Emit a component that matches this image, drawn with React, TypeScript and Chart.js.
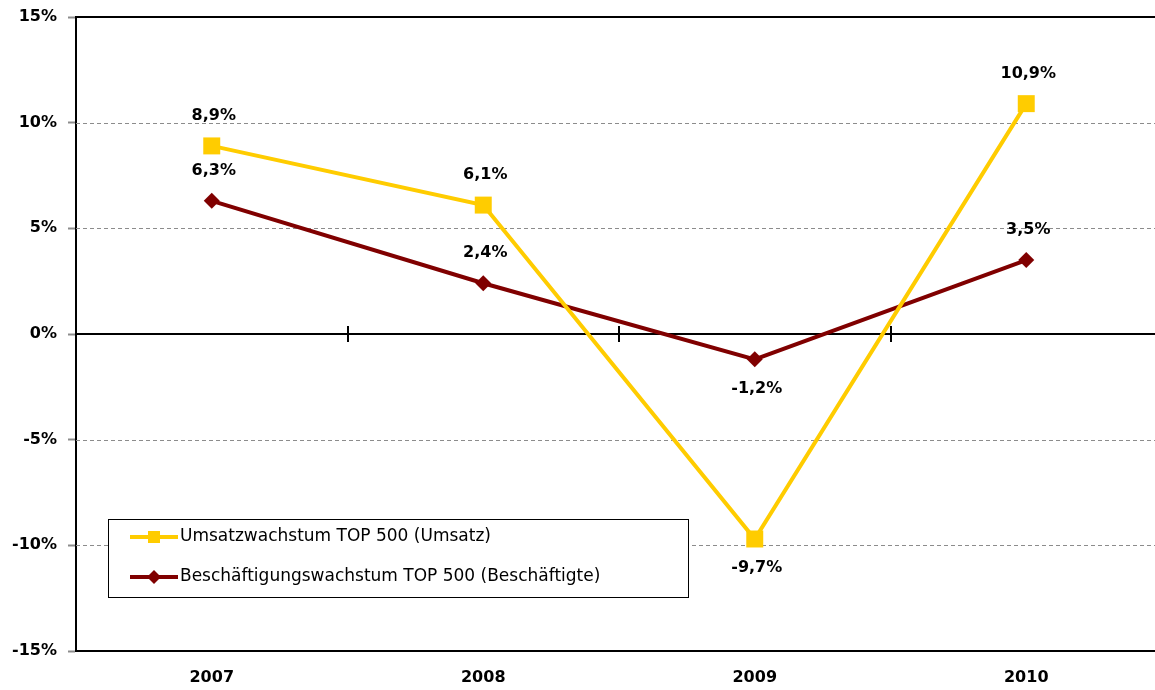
import React, { useEffect, useRef } from "react";
import { Chart, registerables } from "chart.js";

Chart.register(...registerables);

const categories = ["2007", "2008", "2009", "2010"];
const umsatzLabel = "Umsatzwachstum TOP 500 (Umsatz)";
const umsatzValues = [8.9, 6.1, -9.7, 10.9];
const beschLabel = "Beschäftigungswachstum TOP 500 (Beschäftigte)";
const beschValues = [6.3, 2.4, -1.2, 3.5];
const yTicks = [-15, -10, -5, 0, 5, 10, 15];

const YELLOW = "#FFCC00";
const RED = "#800000";
const FONT = "'DejaVu Sans', Verdana, sans-serif";

const fmt = (v: number) => v.toFixed(1).replace(".", ",") + "%";

const decorPlugin = {
  id: "decor",
  beforeDatasetsDraw(chart: any) {
    const { ctx, chartArea, scales } = chart;
    const y = scales.y;
    const x = scales.x;
    ctx.save();
    yTicks.forEach((v) => {
      if (Math.abs(v) === 15 || v === 0) return;
      const py = Math.round(y.getPixelForValue(v)) + 0.5;
      ctx.beginPath();
      ctx.setLineDash([4, 3]);
      ctx.strokeStyle = "#8c8c8c";
      ctx.lineWidth = 1;
      ctx.moveTo(chartArea.left, py);
      ctx.lineTo(chartArea.right, py);
      ctx.stroke();
    });
    ctx.setLineDash([]);
    ctx.strokeStyle = "#000";
    ctx.lineWidth = 2;
    ctx.beginPath();
    ctx.moveTo(chartArea.left, chartArea.top);
    ctx.lineTo(chartArea.right, chartArea.top);
    ctx.stroke();
    const y0 = Math.round(y.getPixelForValue(0));
    ctx.beginPath();
    ctx.moveTo(chartArea.left, y0);
    ctx.lineTo(chartArea.right, y0);
    ctx.stroke();
    for (let i = 0; i < categories.length - 1; i++) {
      const bx = Math.round((x.getPixelForValue(i) + x.getPixelForValue(i + 1)) / 2);
      ctx.beginPath();
      ctx.moveTo(bx, y0 - 8);
      ctx.lineTo(bx, y0 + 8);
      ctx.stroke();
    }
    ctx.restore();
  },
  afterDatasetsDraw(chart: any) {
    const { ctx } = chart;
    ctx.save();
    ctx.font = `bold 16px ${FONT}`;
    ctx.fillStyle = "#000";
    ctx.textAlign = "center";
    ctx.textBaseline = "middle";
    chart.data.datasets.forEach((ds: any, di: number) => {
      const meta = chart.getDatasetMeta(di);
      const vals = ds.data as number[];
      meta.data.forEach((pt: any, i: number) => {
        const v = vals[i];
        const prev = i > 0 ? vals[i - 1] : Infinity;
        const next = i < vals.length - 1 ? vals[i + 1] : Infinity;
        const below = v < prev && v < next;
        const off = below ? 29 : -30;
        ctx.fillText(fmt(v), pt.x + 2, pt.y + off);
      });
    });
    ctx.restore();
  },
  afterDraw(chart: any) {
    const { ctx } = chart;
    ctx.save();
    const bx = 108.5, by = 519.5, bw = 580, bh = 78;
    ctx.fillStyle = "#fff";
    ctx.fillRect(bx, by, bw, bh);
    ctx.strokeStyle = "#000";
    ctx.lineWidth = 1;
    ctx.strokeRect(bx, by, bw, bh);
    const rows = [537, 577];
    chart.data.datasets.forEach((ds: any, di: number) => {
      const ry = rows[di];
      ctx.strokeStyle = ds.borderColor;
      ctx.lineWidth = 4;
      ctx.beginPath();
      ctx.moveTo(130, ry);
      ctx.lineTo(178, ry);
      ctx.stroke();
      ctx.fillStyle = ds.borderColor;
      ctx.beginPath();
      if (ds.pointStyle === "rect") {
        ctx.rect(154 - 6, ry - 6, 12, 12);
      } else {
        ctx.moveTo(154 - 7, ry);
        ctx.lineTo(154, ry - 7);
        ctx.lineTo(154 + 7, ry);
        ctx.lineTo(154, ry + 7);
        ctx.closePath();
      }
      ctx.fill();
      ctx.fillStyle = "#000";
      ctx.font = `17px ${FONT}`;
      ctx.textAlign = "left";
      ctx.textBaseline = "middle";
      ctx.fillText(ds.label, 180, ry);
    });
    ctx.restore();
  },
};

export default function App() {
  const ref = useRef<HTMLCanvasElement>(null);
  useEffect(() => {
    if (!ref.current) return;
    const chart = new Chart(ref.current, {
      type: "line",
      data: {
        labels: categories,
        datasets: [
          {
            label: umsatzLabel,
            data: umsatzValues,
            borderColor: YELLOW,
            backgroundColor: YELLOW,
            borderWidth: 4,
            pointStyle: "rect",
            pointRadius: 12,
            pointBorderWidth: 0,
            tension: 0,
          },
          {
            label: beschLabel,
            data: beschValues,
            borderColor: RED,
            backgroundColor: RED,
            borderWidth: 4,
            pointStyle: "rectRot",
            pointRadius: 8,
            pointBorderWidth: 0,
            tension: 0,
          },
        ],
      },
      options: {
        responsive: false,
        animation: false,
        layout: { autoPadding: false, padding: { top: 17, right: 3, bottom: 0, left: 0 } },
        plugins: { legend: { display: false }, tooltip: { enabled: false } },
        scales: {
          x: {
            offset: true,
            grid: { display: false, drawTicks: false },
            border: { display: true, color: "#000", width: 2 },
            ticks: {
              color: "#000",
              font: { family: FONT, weight: "bold", size: 16 },
              padding: 17,
            },
            afterFit: (s: any) => {
              s.height = 39;
              s.paddingLeft = 0;
              s.paddingRight = 0;
            },
          },
          y: {
            min: -15,
            max: 15,
            grid: {
              drawOnChartArea: false,
              drawTicks: true,
              tickLength: 8,
              tickColor: "#8c8c8c",
              tickWidth: 2,
            },
            border: { display: true, color: "#000", width: 2 },
            afterBuildTicks: (s: any) => {
              s.ticks = yTicks.map((v) => ({ value: v }));
            },
            ticks: {
              color: "#000",
              font: { family: FONT, weight: "bold", size: 16 },
              padding: 11,
              callback: (v: any) => `${v}%`,
            },
            afterFit: (s: any) => {
              s.width = 76;
              s.paddingTop = 0;
              s.paddingBottom = 0;
            },
          },
        },
      },
      plugins: [decorPlugin],
    });
    return () => chart.destroy();
  }, []);
  return (
    <div
      style={{
        position: "fixed",
        left: 0,
        top: 0,
        width: 1155,
        height: 690,
        overflow: "hidden",
        background: "#fff",
      }}
    >
      <canvas ref={ref} width={1165} height={690} style={{ display: "block" }} />
    </div>
  );
}
